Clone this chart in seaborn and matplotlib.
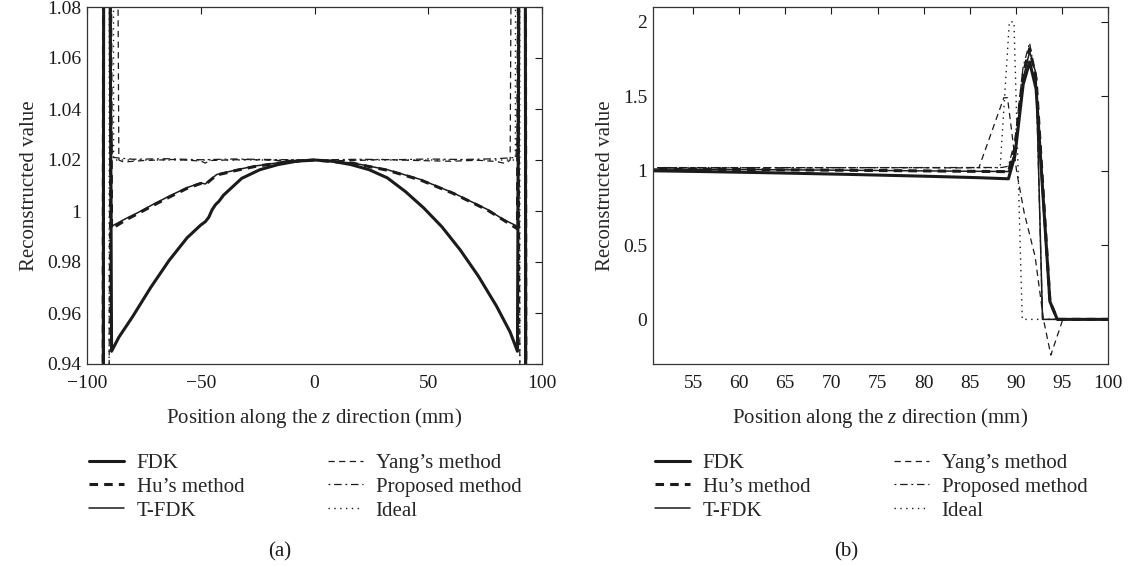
import pandas as pd
import seaborn as sns
import matplotlib
matplotlib.use('Agg')
import matplotlib.pyplot as plt

### profiles along z (mm); same data drawn in (a) and (b)
fdk_x = [-100, -94.5, -93.7, -92.2, -91.5, -90.8, -89.9, -89.2, -86, -80, -72, -64, -56, -50, -48, -46.5, -45,
         -43.5, -42, -40, -32, -24, -16, -8, 0, 8, 16, 24, 32, 40, 48, 56, 64, 72, 80, 86,
         89.2, 89.9, 90.8, 91.5, 92.2, 93.7, 94.5, 100]
fdk_y = [0, 0, 0.12, 1.55, 1.73, 1.58, 1.10, 0.945, 0.9505, 0.9585, 0.9700, 0.9805, 0.9895, 0.9945, 0.9958,
         0.9975, 1.0005, 1.0025, 1.0038, 1.0062, 1.0128, 1.0162, 1.0182, 1.0195, 1.02, 1.0195, 1.0182, 1.0162,
         1.0130, 1.0076, 1.0012, 0.9938, 0.9848, 0.9745, 0.9627, 0.9525, 0.945, 1.10, 1.58, 1.73, 1.55, 0.12, 0, 0]

hu_x = [-100, -94.5, -93.7, -92.2, -91.5, -90.8, -89.9, -89.2, -83, -78, -70.5, -63.5, -56, -50, -48, -46, -43,
        -34, -26.5, -12, 0, 17, 32, 46.5, 61, 76, 83, 89.2, 89.9, 90.8, 91.5, 92.2, 93.7, 94.5, 100]
hu_y = [0, 0, 0.12, 1.62, 1.82, 1.65, 1.15, 0.993, 0.9965, 0.9988, 1.0024, 1.0056, 1.0089, 1.0108, 1.0104, 1.0119,
        1.0141, 1.016, 1.0174, 1.0193, 1.02, 1.0187, 1.016, 1.0122, 1.0069, 1.0004, 0.9965, 0.993, 1.15, 1.65, 1.82,
        1.62, 0.12, 0, 0]

tfdk_x = [-100, -92.9, -92.2, -91.5, -90.8, -89.9, -89.2, -83, -78, -70.5, -63.5, -56, -50, -48, -46, -43, -34,
          -26.5, -12, 0, 17, 32, 46.5, 61, 76, 83, 89.2, 89.9, 90.8, 91.5, 92.2, 92.9, 100]
tfdk_y = [0, 0, 1.65, 1.80, 1.62, 1.12, 0.994, 0.997, 0.9992, 1.0028, 1.006, 1.0092, 1.011, 1.0106, 1.0121, 1.0143,
          1.0162, 1.0176, 1.0194, 1.02, 1.0188, 1.0162, 1.0124, 1.0071, 1.0006, 0.9967, 0.994, 1.12, 1.62, 1.80,
          1.65, 0, 0]

yang_x = [-100, -95.1, -93.8, -93.0, -92.1, -90.9, -90.1, -89.1, -88.7, -86.0, -84, -75, -62, -50, -48, -46, -30,
          -15, 0, 15, 30, 45, 60, 72, 80, 84, 86.0, 88.7, 89.1, 90.1, 90.9, 92.1, 93.0, 93.8, 95.1, 100]
yang_y = [0, 0, -0.24, 0, 0.42, 0.72, 0.99, 1.49, 1.49, 1.02, 1.0192, 1.0198, 1.0202, 1.0196, 1.0188, 1.0198,
          1.0202, 1.0198, 1.02, 1.0197, 1.0202, 1.0198, 1.0195, 1.0199, 1.0194, 1.0186, 1.02, 1.49, 1.49, 0.99,
          0.72, 0.42, 0, -0.24, 0, 0]

prop_x = [-100, -92.9, -92.2, -91.5, -90.8, -89.9, -89.2, -88.5, -80, -65, -50, -35, -20, 0, 20, 35, 50, 65, 80,
          88.5, 89.2, 89.9, 90.8, 91.5, 92.2, 92.9, 100]
prop_y = [0, 0, 1.6, 1.86, 1.7, 1.2, 1.03, 1.021, 1.0203, 1.0205, 1.0201, 1.0204, 1.0202, 1.02, 1.0203, 1.0201,
          1.0204, 1.0202, 1.0205, 1.021, 1.03, 1.2, 1.7, 1.86, 1.6, 0, 0]

ideal_x = [-100, -90.7, -89.8, -89.3, -88.3, 88.3, 89.3, 89.8, 90.7, 100]
ideal_y = [0, 0, 2.0, 2.0, 1.02, 1.02, 2.0, 2.0, 0, 0]

methods = ['FDK', "Hu\u2019s method", 'T-FDK', "Yang\u2019s method", 'Proposed method', 'Ideal']
xs = [fdk_x, hu_x, tfdk_x, yang_x, prop_x, ideal_x]
ys = [fdk_y, hu_y, tfdk_y, yang_y, prop_y, ideal_y]

styles = [dict(lw=2.2, ls='-'),
          dict(lw=2.2, ls=(0, (2.8, 2))),
          dict(lw=1.1, ls='-'),
          dict(lw=0.9, ls=(0, (5, 3.5))),
          dict(lw=0.9, ls=(0, (1.5, 3, 6, 3))),
          dict(lw=1.0, ls=(0, (1, 3.2)))]

sns.set_style('white')
plt.rcParams['font.family'] = ['Liberation Serif', 'DejaVu Serif']
plt.rcParams['mathtext.fontset'] = 'custom'
plt.rcParams['mathtext.it'] = 'Liberation Serif:italic'
plt.rcParams['mathtext.rm'] = 'Liberation Serif'
plt.rcParams['axes.unicode_minus'] = True

fig = plt.figure(figsize=(11.3, 5.67), dpi=100)
ax1 = fig.add_axes([87 / 1130, 1 - 364 / 567, 455 / 1130, 357 / 567])
ax2 = fig.add_axes([653 / 1130, 1 - 364 / 567, 455 / 1130, 357 / 567])
ink = '#1b1b1b'

for ax in (ax1, ax2):
    for k, name in enumerate(methods):
        frame = pd.DataFrame({'z': xs[k], 'value': ys[k]})
        sns.lineplot(data=frame, x='z', y='value', ax=ax, color=ink, estimator=None, sort=False,
                     label=name, linewidth=styles[k]['lw'], linestyle=styles[k]['ls'])
    ax.set_xlabel('Position along the $z$ direction (mm)', fontsize=15, labelpad=10)
    ax.set_ylabel('Reconstructed value', fontsize=15, labelpad=6)
    ax.tick_params(direction='in', top=True, right=True, length=5, width=0.8, labelsize=14, colors=ink,
                   pad=4)
    ax.tick_params(axis='x', pad=8)
    for s in ax.spines.values():
        s.set_linewidth(0.9)
        s.set_color('#333333')
    ax.legend(loc='upper left', bbox_to_anchor=(-0.037, -0.198), ncol=2, frameon=False, fontsize=15,
              handlelength=1.7, handletextpad=0.6, columnspacing=4.0, labelspacing=0.2)

ax1.set_xlim(-100, 100)
ax1.set_ylim(0.94, 1.08)
ax1.set_xticks([-100, -50, 0, 50, 100])
ax1.set_yticks([0.94, 0.96, 0.98, 1.0, 1.02, 1.04, 1.06, 1.08])
ax1.set_yticklabels(['0.94', '0.96', '0.98', '1', '1.02', '1.04', '1.06', '1.08'])

ax2.set_xlim(50.65, 100)
ax2.set_ylim(-0.3, 2.1)
ax2.set_xticks([55, 60, 65, 70, 75, 80, 85, 90, 95, 100])
ax2.set_yticks([0, 0.5, 1, 1.5, 2])
ax2.set_yticklabels(['0', '0.5', '1', '1.5', '2'])

fig.text(280 / 1130, 1 - 552 / 567, '(a)', ha='center', va='center', fontsize=15, color=ink)
fig.text(846 / 1130, 1 - 552 / 567, '(b)', ha='center', va='center', fontsize=15, color=ink)

plt.savefig('out.png', dpi=100)
